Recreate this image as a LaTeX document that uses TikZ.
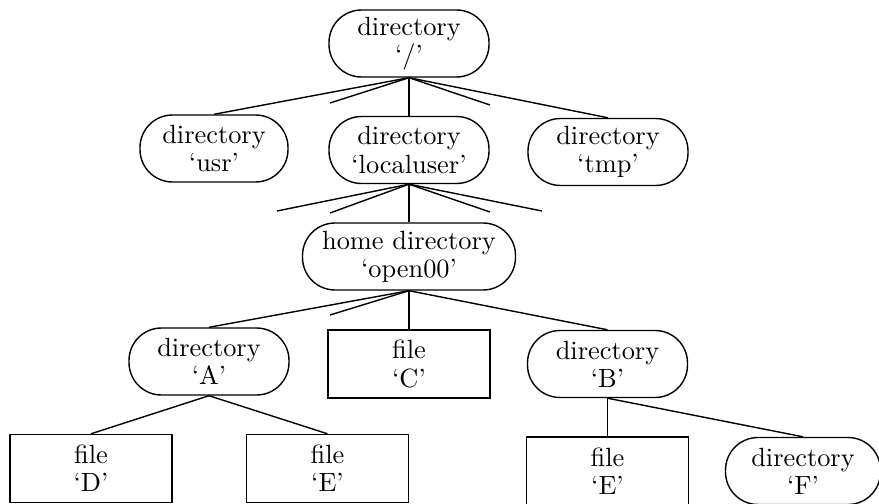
\documentclass[tikz,border=0pt]{standalone}
\usepackage{fontspec}
\setmainfont{lmroman10-regular}[Extension=.otf]
\usepackage{tikz}

\begin{document}
\begin{tikzpicture}[line width=0.8pt,font=\fontsize{15}{16}\selectfont,
	dir/.style={draw,rounded corners=0.65cm,minimum width=3.2cm,minimum height=1.34cm,align=center,inner sep=0pt},
	file/.style={draw,minimum width=3.24cm,minimum height=1.36cm,align=center,inner sep=0pt}]

\useasboundingbox (0,0) rectangle (17.58,-10.08);

\node[dir](root) at (8.18,-0.87){directory\\`/'};
\node[dir,minimum width=2.96cm](usr) at (4.28,-2.97){directory\\`usr'};
\node[dir](local) at (8.18,-3.0){directory\\`localuser'};
\node[dir](tmp) at (12.16,-3.04){directory\\`tmp'};
\node[dir,minimum width=4.26cm](home) at (8.18,-5.13){home directory\\`open00'};
\node[dir](dirA) at (4.18,-7.23){directory\\`A'};
\node[file](fileC) at (8.18,-7.28){file\\`C'};
\node[dir](dirB) at (12.15,-7.28){directory\\`B'};
\node[file](fileD) at (1.82,-9.37){file\\`D'};
\node[file](fileE) at (6.55,-9.37){file\\`E'};
\node[file](fileEb) at (12.15,-9.42){file\\`E'};
\node[dir,minimum width=3.1cm](dirF) at (16.06,-9.42){directory\\`F'};

% loose ends for the entries that are not shown
\coordinate (r1) at (6.6,-2.06);
\coordinate (r2) at (9.8,-2.1);
\coordinate (l1) at (5.54,-4.22);
\coordinate (l2) at (6.6,-4.26);
\coordinate (l3) at (9.8,-4.24);
\coordinate (l4) at (10.84,-4.22);
\coordinate (h1) at (6.6,-6.3);

\path[draw](root.south)edge(usr.north)
	(root.south)edge(r1)
	(root.south)edge(local.north)
	(root.south)edge(r2)
	(root.south)edge(tmp.north)
	(local.south)edge(l1)
	(local.south)edge(l2)
	(local.south)edge(home.north)
	(local.south)edge(l3)
	(local.south)edge(l4)
	(home.south)edge(dirA.north)
	(home.south)edge(h1)
	(home.south)edge(fileC.north)
	(home.south)edge(dirB.north)
	(dirA.south)edge(fileD.north)
	(dirA.south)edge(fileE.north)
	(dirB.south)edge(fileEb.north)
	(dirB.south)edge(dirF.north);

\end{tikzpicture}
\end{document}
